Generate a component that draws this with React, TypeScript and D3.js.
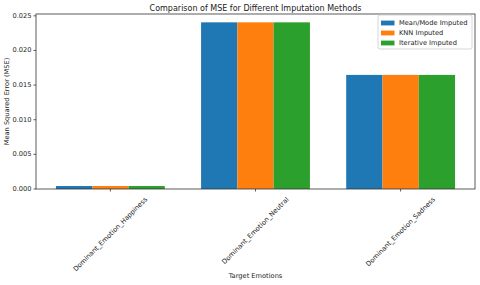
import * as d3 from 'd3';
import { useRef, useEffect } from 'react';

const categories = ['Dominant_Emotion_Happiness', 'Dominant_Emotion_Neutral', 'Dominant_Emotion_Sadness'];
const methods = ['Mean/Mode Imputed', 'KNN Imputed', 'Iterative Imputed'];
const colors = ['#1f77b4', '#ff7f0e', '#2ca02c'];
const meanModeMse = [0.00043, 0.02406, 0.01647];
const knnMse = [0.00043, 0.02406, 0.01647];
const iterativeMse = [0.00043, 0.02406, 0.01647];
const yTicks = [0, 0.005, 0.01, 0.015, 0.02, 0.025];

const FONT = 'DejaVu Sans, sans-serif';

export default function App() {
  const svgRef = useRef<SVGSVGElement | null>(null);

  useEffect(() => {
    const width = 480;
    const height = 285;
    const margin = { top: 14, right: 5, bottom: 96, left: 36 };
    const innerWidth = width - margin.left - margin.right;
    const innerHeight = height - margin.top - margin.bottom;
    const series = [meanModeMse, knnMse, iterativeMse];
    const barW = 0.25;

    const maxVal = d3.max(series.flat()) ?? 0;
    const xScale = d3.scaleLinear().domain([-0.5125, 2.5125]).range([0, innerWidth]);
    const yScale = d3.scaleLinear().domain([0, maxVal * 1.05]).range([innerHeight, 0]);

    d3.select(svgRef.current).selectAll('*').remove();
    const root = d3.select(svgRef.current).attr('width', width).attr('height', height);
    const svg = root.append('g').attr('transform', `translate(${margin.left},${margin.top})`);

    // Barras
    series.forEach((vals, s) => {
      vals.forEach((v, i) => {
        const x0 = xScale(i + (s - 1) * barW - barW / 2);
        const x1 = xScale(i + (s - 1) * barW + barW / 2);
        svg
          .append('rect')
          .attr('x', x0)
          .attr('y', yScale(v))
          .attr('width', x1 - x0)
          .attr('height', innerHeight - yScale(v))
          .attr('fill', colors[s]);
      });
    });

    // Marco
    svg
      .append('rect')
      .attr('x', 0)
      .attr('y', 0)
      .attr('width', innerWidth)
      .attr('height', innerHeight)
      .attr('fill', 'none')
      .attr('stroke', '#333')
      .attr('stroke-width', 0.8);

    // Eje Y
    yTicks.forEach((t) => {
      svg
        .append('line')
        .attr('x1', -2.5)
        .attr('x2', 0)
        .attr('y1', yScale(t))
        .attr('y2', yScale(t))
        .attr('stroke', '#333')
        .attr('stroke-width', 0.8);
      svg
        .append('text')
        .attr('x', -4.5)
        .attr('y', yScale(t))
        .attr('text-anchor', 'end')
        .attr('dominant-baseline', 'central')
        .attr('font-family', FONT)
        .attr('font-size', '6.67px')
        .attr('fill', '#222')
        .text(d3.format('.3f')(t));
    });

    // Eje X
    categories.forEach((c, i) => {
      const x = xScale(i);
      svg
        .append('line')
        .attr('x1', x)
        .attr('x2', x)
        .attr('y1', innerHeight)
        .attr('y2', innerHeight + 2.5)
        .attr('stroke', '#333')
        .attr('stroke-width', 0.8);
      const label = svg
        .append('text')
        .attr('text-anchor', 'middle')
        .attr('dominant-baseline', 'central')
        .attr('font-family', FONT)
        .attr('font-size', '6.67px')
        .attr('fill', '#222')
        .text(c);
      const len = (label.node() as SVGTextElement).getComputedTextLength();
      const boxH = (len + 7) * Math.SQRT1_2;
      label.attr('transform', `translate(${x},${innerHeight + 7 + boxH / 2}) rotate(-45)`);
    });

    // Títulos
    root
      .append('text')
      .attr('x', margin.left + innerWidth / 2)
      .attr('y', 8)
      .attr('text-anchor', 'middle')
      .attr('dominant-baseline', 'central')
      .attr('font-family', FONT)
      .attr('font-size', '8px')
      .attr('fill', '#222')
      .text('Comparison of MSE for Different Imputation Methods');

    root
      .append('text')
      .attr('x', margin.left + innerWidth / 2)
      .attr('y', 276)
      .attr('text-anchor', 'middle')
      .attr('dominant-baseline', 'central')
      .attr('font-family', FONT)
      .attr('font-size', '6.67px')
      .attr('fill', '#222')
      .text('Target Emotions');

    root
      .append('text')
      .attr('transform', `translate(7,${margin.top + innerHeight / 2}) rotate(-90)`)
      .attr('text-anchor', 'middle')
      .attr('dominant-baseline', 'central')
      .attr('font-family', FONT)
      .attr('font-size', '6.67px')
      .attr('fill', '#222')
      .text('Mean Squared Error (MSE)');

    // Leyenda
    const lx = 378;
    const ly = 15;
    root
      .append('rect')
      .attr('x', lx)
      .attr('y', ly)
      .attr('width', 94)
      .attr('height', 34)
      .attr('rx', 2)
      .attr('fill', 'white')
      .attr('fill-opacity', 0.8)
      .attr('stroke', '#ccc')
      .attr('stroke-width', 0.8);
    methods.forEach((m, i) => {
      const cy = ly + 8 + i * 10;
      root
        .append('rect')
        .attr('x', lx + 3)
        .attr('y', cy - 2.4)
        .attr('width', 13.5)
        .attr('height', 4.8)
        .attr('fill', colors[i]);
      root
        .append('text')
        .attr('x', lx + 21)
        .attr('y', cy)
        .attr('dominant-baseline', 'central')
        .attr('font-family', FONT)
        .attr('font-size', '6.67px')
        .attr('fill', '#222')
        .text(m);
    });
  }, []);

  return (
    <div style={{ position: 'absolute', left: 0, top: 0 }}>
      <svg ref={svgRef} style={{ display: 'block' }} />
    </div>
  );
}
